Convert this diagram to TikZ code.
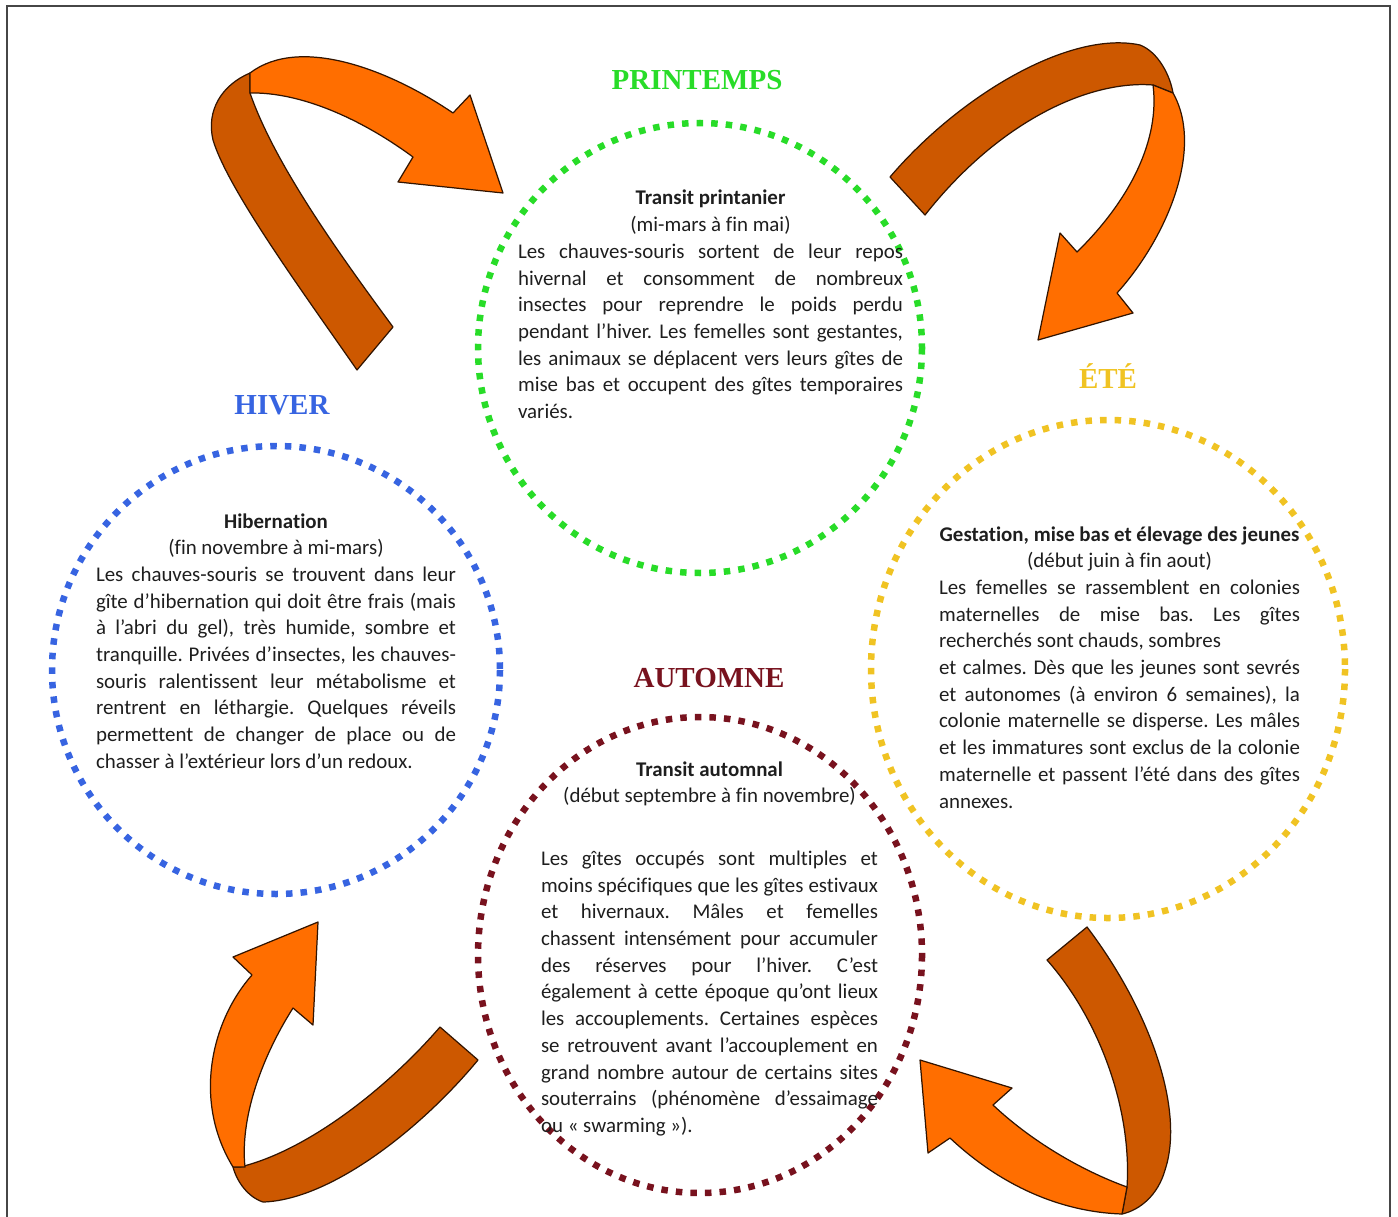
\documentclass[tikz,border=0pt]{standalone}
\usepackage{fontspec}
\setmainfont{Carlito}[Ligatures=NoCommon]
\newfontfamily\seasonfont{Liberation Serif}
\definecolor{sgreen}{RGB}{40,220,40}
\definecolor{sblue}{RGB}{55,100,225}
\definecolor{syellow}{RGB}{240,195,35}
\definecolor{sred}{RGB}{120,18,30}
\definecolor{afront}{RGB}{255,110,0}
\definecolor{aback}{RGB}{205,88,0}
\definecolor{aline}{RGB}{50,20,0}
\definecolor{txtgray}{RGB}{30,30,30}
\definecolor{framegray}{RGB}{70,70,70}
\tolerance=10000
\hbadness=10000
\hyphenpenalty=10000
\frenchspacing

\begin{document}
\begin{tikzpicture}[x=0.02cm, y=-0.02cm,
  season/.style={font=\seasonfont\fontsize{16.5}{20}\selectfont\bfseries, inner sep=0pt, anchor=base},
  body/.style={anchor=base, inner sep=0pt, align=justify, text=txtgray, font=\fontsize{11.9}{15.2}\selectfont},
  ring/.style={line width=3.7pt, dash pattern=on 3.7pt off 4.6pt},
  front/.style={fill=afront, draw=aline, line width=0.7pt, line join=round},
  back/.style={fill=aback, draw=aline, line width=0.7pt, line join=round}]
\useasboundingbox (0,0) rectangle (1398,1216);

% Frame
\draw[framegray, line width=1.1pt] (7,1240) -- (7,6) -- (1390,6) -- (1390,1240);

% Dotted season rings
\draw[ring, sgreen] (700,348) ellipse [x radius=222, y radius=225];
\draw[ring, sblue] (276,670) ellipse [x radius=224, y radius=224];
\draw[ring, syellow] (1108,669) ellipse [x radius=237, y radius=249];
\draw[ring, sred] (700,955) ellipse [x radius=222, y radius=238];

% Season titles
\node[season, text=sgreen] (printemps) at (697,90) {PRINTEMPS};
\node[season, text=sblue] (hiver) at (282,414) {HIVER};
\node[season, text=syellow] (ete) at (1108,388) {ÉTÉ};
\node[season, text=sred] (automne) at (709,687) {AUTOMNE};

% Texts
\node[body, text width=7.7cm] (tprint) at (710.5,205) {{\centering\bfseries Transit printanier\par\mdseries (mi-mars à fin mai)\par}Les chauves-souris sortent de leur repos\linebreak hivernal et consomment de nombreux\linebreak insectes pour reprendre le poids perdu\linebreak pendant l’hiver. Les femelles sont gestantes,\linebreak les animaux se déplacent vers leurs gîtes de\linebreak mise bas et occupent des gîtes temporaires\linebreak variés.};

\node[body, text width=7.2cm] (thiver) at (276,528) {{\centering\bfseries Hibernation\par\mdseries (fin novembre à mi-mars)\par}Les chauves-souris se trouvent dans leur\linebreak gîte d’hibernation qui doit être frais (mais\linebreak à l’abri du gel), très humide, sombre et\linebreak tranquille. Privées d’insectes, les chauves-\linebreak souris ralentissent leur métabolisme et\linebreak rentrent en léthargie. Quelques réveils\linebreak permettent de changer de place ou de\linebreak chasser à l’extérieur lors d’un redoux.};

\node[body, text width=7.22cm] (tete) at (1119.5,541) {{\centering\bfseries Gestation, mise bas et élevage des jeunes\par\mdseries (début juin à fin aout)\par}Les femelles se rassemblent en colonies\linebreak maternelles de mise bas. Les gîtes\linebreak recherchés sont chauds, sombres\newline et calmes. Dès que les jeunes sont sevrés\linebreak et autonomes (à environ 6 semaines), la\linebreak colonie maternelle se disperse. Les mâles\linebreak et les immatures sont exclus de la colonie\linebreak maternelle et passent l’été dans des gîtes\linebreak annexes.};

\node[body, text width=6.74cm] (tautomne) at (709.5,776) {{\centering\bfseries Transit automnal\par\mdseries (début septembre à fin novembre)\par}\vspace{20.5pt}Les gîtes occupés sont multiples et\linebreak moins spécifiques que les gîtes estivaux\linebreak et hivernaux. Mâles et femelles\linebreak chassent intensément pour accumuler\linebreak des réserves pour l’hiver. C’est\linebreak également à cette époque qu’ont lieux\linebreak les accouplements. Certaines espèces\linebreak se retrouvent avant l’accouplement en\linebreak grand nombre autour de certains sites\linebreak souterrains (phénomène d’essaimage\linebreak ou « swarming »).};

% Arrow hiver -> printemps
\draw[back] (357,370) -- (393,327) .. controls (340,255) and (275,165) .. (250,93)
  -- (250,73) .. controls (222,85) and (206,110) .. (213,140)
  .. controls (228,190) and (305,295) .. (357,370) -- cycle;
\draw[front] (250,73) .. controls (300,35) and (390,70) .. (453,113) -- (470,95) -- (503,193)
  -- (398,182) -- (413,157) .. controls (360,118) and (300,92) .. (250,93) -- cycle;

% Arrow printemps -> ete
\draw[back] (890,177) .. controls (960,95) and (1070,30) .. (1140,45)
  .. controls (1158,52) and (1170,75) .. (1173,93) -- (1153,85)
  .. controls (1090,80) and (1000,120) .. (925,215) -- cycle;
\draw[front] (1153,85) .. controls (1160,140) and (1130,200) .. (1077,252) -- (1060,233) -- (1038,340)
  -- (1133,313) -- (1117,293) .. controls (1165,240) and (1205,150) .. (1173,93) -- cycle;

% Arrow ete -> automne
\draw[back] (1047,960) -- (1087,927) .. controls (1150,1010) and (1185,1110) .. (1165,1170)
  .. controls (1158,1195) and (1140,1210) .. (1122,1214) -- (1127,1187)
  .. controls (1132,1110) and (1100,1020) .. (1047,960) -- cycle;
\draw[front] (1127,1187) .. controls (1080,1170) and (1030,1140) .. (993,1105) -- (1012,1088) -- (920,1060)
  -- (928,1153) -- (950,1138) .. controls (1000,1185) and (1060,1212) .. (1122,1214) -- cycle;

% Arrow automne -> hiver
\draw[back] (440,1027) -- (478,1060) .. controls (420,1130) and (330,1200) .. (263,1202)
  .. controls (248,1197) and (237,1182) .. (233,1167) -- (240,1167)
  .. controls (310,1150) and (390,1085) .. (440,1027) -- cycle;
\draw[front] (233,1167) .. controls (192,1100) and (212,1020) .. (252,975) -- (233,957) -- (318,922)
  -- (313,1025) -- (293,1008) .. controls (260,1060) and (240,1120) .. (245,1167) -- cycle;
\end{tikzpicture}
\end{document}
